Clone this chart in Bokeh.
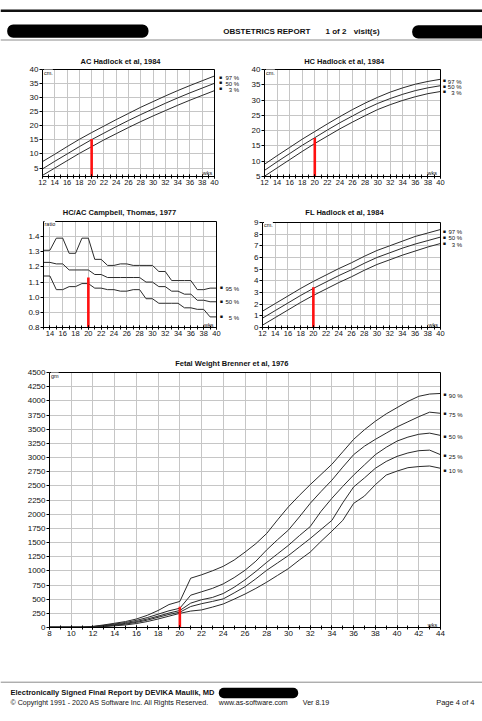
from bokeh.plotting import figure
from bokeh.layouts import column, row
from bokeh.models import (Range1d, Label, Span, BoxAnnotation, FixedTicker,
                          SingleIntervalTicker, PrintfTickFormatter)
from bokeh.embed import file_html
from bokeh.resources import INLINE

FONT = "Liberation Sans"
LINE = "#2a2a2a"
GRID = "#c6c6c6"
RED = "#ff1010"

# ---------------- data ----------------
hadlock_weeks = [12, 14, 16, 18, 20, 22, 24, 26, 28, 30, 32, 34, 36, 38, 40]
ac_p97 = [7.3, 9.9, 12.6, 15.2, 17.6, 19.9, 22.2, 24.4, 26.6, 28.6, 30.6, 32.5, 34.3, 36.0, 37.7]
ac_p50 = [4.7, 7.4, 10.0, 12.6, 15.1, 17.4, 19.7, 21.9, 24.0, 26.0, 28.0, 29.9, 31.7, 33.4, 35.1]
ac_p3 = [2.4, 5.0, 7.6, 10.2, 12.6, 15.0, 17.2, 19.4, 21.5, 23.5, 25.4, 27.3, 29.1, 30.8, 32.5]

hc_p97 = [9.0, 11.8, 14.5, 17.2, 19.7, 22.2, 24.6, 26.9, 29.0, 30.9, 32.6, 34.0, 35.2, 36.1, 36.8]
hc_p50 = [7.0, 9.8, 12.5, 15.2, 17.7, 20.2, 22.6, 24.8, 27.0, 28.9, 30.5, 31.9, 33.1, 34.0, 34.7]
hc_p3 = [5.1, 7.8, 10.5, 13.2, 15.8, 18.2, 20.6, 22.8, 24.9, 26.9, 28.5, 29.9, 31.1, 32.1, 32.8]

fl_p97 = [1.4, 2.05, 2.7, 3.35, 3.95, 4.5, 5.05, 5.55, 6.1, 6.6, 7.0, 7.4, 7.8, 8.1, 8.4]
fl_p50 = [0.8, 1.45, 2.1, 2.75, 3.35, 3.9, 4.45, 4.95, 5.5, 6.0, 6.4, 6.8, 7.15, 7.45, 7.75]
fl_p3 = [0.2, 0.85, 1.5, 2.15, 2.75, 3.3, 3.85, 4.35, 4.9, 5.4, 5.8, 6.2, 6.55, 6.9, 7.2]

hcac_weeks = [13, 14, 15, 16, 17, 18, 19, 20, 21, 22, 23, 24, 25, 26,
              27, 28, 29, 30, 31, 32, 33, 34, 35, 36, 37, 38, 39, 40]
hcac_p95 = [1.31, 1.31, 1.39, 1.39, 1.29, 1.29, 1.39, 1.39, 1.25, 1.25, 1.21, 1.21, 1.22, 1.22,
            1.21, 1.21, 1.21, 1.21, 1.17, 1.17, 1.11, 1.11, 1.11, 1.11, 1.05, 1.05, 1.06, 1.06]
hcac_p50 = [1.23, 1.23, 1.22, 1.22, 1.18, 1.18, 1.18, 1.18, 1.15, 1.15, 1.13, 1.13, 1.13, 1.13,
            1.13, 1.13, 1.10, 1.10, 1.07, 1.07, 1.04, 1.04, 1.02, 1.02, 0.98, 0.98, 0.97, 0.97]
hcac_p5 = [1.14, 1.14, 1.05, 1.05, 1.07, 1.07, 1.09, 1.09, 1.06, 1.06, 1.05, 1.05, 1.04, 1.04,
           1.05, 1.05, 0.99, 0.99, 0.96, 0.96, 0.96, 0.96, 0.93, 0.93, 0.92, 0.92, 0.87, 0.87]

fw_weeks = [8, 9, 10, 11, 12, 13, 14, 15, 16, 17, 18, 19, 20, 21, 22, 23, 24, 25, 26,
            27, 28, 29, 30, 31, 32, 33, 34, 35, 36, 37, 38, 39, 40, 41, 42, 43, 44]
fw_p90 = [5, 5, 5, 5, 20, 45, 75, 105, 150, 215, 300, 405, 460, 870, 930, 1000, 1080, 1190, 1330,
          1480, 1660, 1900, 2130, 2330, 2520, 2700, 2880, 3100, 3320, 3490, 3640, 3770, 3880, 3990, 4080, 4120, 4130]
fw_p75 = [5, 5, 5, 5, 15, 38, 62, 88, 125, 175, 235, 295, 340, 570, 630, 690, 770, 880, 1010,
          1170, 1370, 1550, 1720, 1950, 2190, 2400, 2600, 2830, 3050, 3200, 3320, 3430, 3540, 3630, 3720, 3800, 3780]
fw_p50 = [5, 5, 5, 5, 10, 30, 50, 72, 105, 150, 200, 255, 300, 430, 490, 530, 600, 710, 840,
          990, 1150, 1300, 1450, 1620, 1780, 2050, 2280, 2490, 2690, 2870, 3050, 3180, 3290, 3360, 3410, 3430, 3390]
fw_p25 = [5, 5, 5, 5, 8, 22, 40, 60, 90, 130, 180, 230, 270, 370, 420, 460, 505, 610, 720,
          860, 1010, 1140, 1270, 1420, 1570, 1730, 1890, 2200, 2480, 2640, 2810, 2930, 3020, 3080, 3120, 3130, 3050]
fw_p10 = [5, 5, 5, 5, 5, 15, 30, 45, 70, 105, 150, 200, 250, 290, 310, 360, 415, 500, 590,
          690, 800, 920, 1040, 1190, 1330, 1520, 1700, 1890, 2190, 2320, 2520, 2690, 2760, 2820, 2840, 2850, 2810]

patient_week = 20
ac_patient = 15.3
hc_patient = 17.6
hcac_patient = 1.13
fl_patient = 3.45
fw_patient = 365

cm_y_ticks = [5, 10, 15, 20, 25, 30, 35, 40]
hcac_y_ticks = [0.8, 0.9, 1.0, 1.1, 1.2, 1.3, 1.4]
fl_y_ticks = [0, 1, 2, 3, 4, 5, 6, 7, 8, 9]
fw_y_ticks = [0, 250, 500, 750, 1000, 1250, 1500, 1750, 2000, 2250, 2500, 2750,
              3000, 3250, 3500, 3750, 4000, 4250, 4500]

hadlock_legend = ["97 %", "50 %", "3 %"]
hcac_legend = ["95 %", "50 %", "5 %"]
fw_legend = ["90 %", "75 %", "50 %", "25 %", "10 %"]


# ---------------- helpers ----------------
def make_chart(fig_box, inner, xr, yr, yticks, xfont, yfont, yfmt=None):
    """fig_box = (x, y, w, h) of the figure on the page; inner = (left, top, right, bottom)
    page pixels of the chart box that spans xr x yr."""
    fx, fy, fw, fh = fig_box
    bl, bt, br, bb = inner
    L = int(round(bl - fx))
    B = int(round(fy + fh - bb))
    pxu = (br - bl) / (xr[1] - xr[0])
    pyu = (bb - bt) / (yr[1] - yr[0])
    x_end = xr[0] + (fx + fw - bl) / pxu
    y_end = yr[0] + (bb - fy) / pyu
    p = figure(width=fw, height=fh, x_range=Range1d(xr[0], x_end), y_range=Range1d(yr[0], y_end),
               output_backend="svg", toolbar_location=None,
               min_border_left=L, min_border_right=0, min_border_top=0, min_border_bottom=B)
    p.background_fill_color = "white"
    p.border_fill_color = "white"
    p.outline_line_color = None
    xa = p.xaxis[0]
    ya = p.yaxis[0]
    xa.ticker = SingleIntervalTicker(interval=2, num_minor_ticks=2)
    ya.ticker = FixedTicker(ticks=yticks)
    xa.bounds = (xr[0], xr[1])
    ya.bounds = (yr[0], yr[1])
    for ax in (xa, ya):
        ax.axis_line_color = "black"
        ax.major_tick_line_color = "black"
        ax.minor_tick_line_color = "black"
        ax.major_label_text_font = FONT
        ax.major_label_text_color = "#111111"
    xa.major_tick_in = 2
    xa.major_tick_out = 2
    xa.minor_tick_in = 2
    xa.minor_tick_out = 2
    xa.major_label_standoff = 1
    xa.major_label_text_font_size = xfont
    ya.major_tick_in = 0
    ya.major_tick_out = 3
    ya.minor_tick_line_color = None
    ya.major_label_standoff = 1
    ya.major_label_text_font_size = yfont
    if yfmt:
        ya.formatter = PrintfTickFormatter(format=yfmt)
    p.xgrid.grid_line_color = GRID
    p.ygrid.grid_line_color = GRID
    p.xgrid.bounds = (xr[0], xr[1])
    p.xgrid.cross_bounds = (yr[0], yr[1])
    p.ygrid.bounds = (yr[0], yr[1])
    p.ygrid.cross_bounds = (xr[0], xr[1])
    p.add_layout(BoxAnnotation(left=xr[0], right=xr[1], bottom=yr[0], top=yr[1],
                               fill_color=None, fill_alpha=0, line_color="black",
                               line_width=1, line_alpha=1))

    def to_data(px, py):
        return (xr[0] + (px - bl) / pxu, yr[0] + (bb - py) / pyu)
    return p, to_data


def add_text(p, to_data, px, py, text, size, align="left", bold=False, color="#111111", bg=None):
    x, y = to_data(px, py)
    lab = Label(x=x, y=y, text=text, text_font=FONT, text_font_size=size, text_align=align,
                text_baseline="middle", text_font_style="bold" if bold else "normal",
                text_color=color)
    if bg:
        lab.background_fill_color = bg
    p.add_layout(lab)


def add_legend(p, to_data, sq_x, text_right, rows, texts):
    for t, py in zip(texts, rows):
        add_text(p, to_data, sq_x, py - 1.6, "\u25a0", "5px", align="center")
        add_text(p, to_data, text_right, py, t, "6px", align="right")


def blank(w, h):
    p = figure(width=w, height=h, x_range=Range1d(0, w), y_range=Range1d(0, h),
               output_backend="svg", toolbar_location=None, min_border=0,
               x_axis_type=None, y_axis_type=None)
    p.grid.visible = False
    p.outline_line_color = None
    p.background_fill_color = "white"
    p.border_fill_color = "white"
    return p


# ---------------- header (page y 0..50) ----------------
HW, HH = 482, 50
header = blank(HW, HH)
header.add_layout(Span(location=HH - 10.2, dimension="width", line_color="#111111", line_width=2.4))
header.add_layout(Span(location=HH - 39.5, dimension="width", line_color="#8a8a8a", line_width=1))
header.add_layout(BoxAnnotation(left=6.7, right=148, bottom=HH - 37.3, top=HH - 24,
                                fill_color="black", fill_alpha=1, line_color=None, border_radius=6))
header.add_layout(BoxAnnotation(left=411.7, right=490, bottom=HH - 38, top=HH - 24.7,
                                fill_color="black", fill_alpha=1, line_color=None, border_radius=6))
for tx, xx in [("OBSTETRICS REPORT", 222.7), ("1 of 2", 325.0), ("visit(s)", 353.3)]:
    header.add_layout(Label(x=xx, y=HH - 30.7, text=tx, text_font=FONT, text_font_size="8px",
                            text_font_style="bold", text_baseline="middle", text_color="#111111"))

# ---------------- AC (page y 50..200) ----------------
ac, ac_m = make_chart((0, 50, 241, 150), (42, 69, 214, 176), (12, 40), (2, 40), cm_y_ticks, "7.5px", "8px")
for s in (ac_p97, ac_p50, ac_p3):
    ac.line(hadlock_weeks, s, line_color=LINE, line_width=1)
ac.segment(x0=[patient_week], y0=[2], x1=[patient_week], y1=[ac_patient], line_color=RED, line_width=2.6)
add_text(ac, ac_m, 120, 61, "AC Hadlock et al, 1984", "7.5px", align="center", bold=True)
add_text(ac, ac_m, 43.5, 72, "cm.", "5.5px", bg="white")
add_text(ac, ac_m, 211.7, 172.5, "wks", "5.5px", align="right")
add_legend(ac, ac_m, 220, 238.7, [77.7, 83.3, 89.0], hadlock_legend)

# ---------------- HC ----------------
hc, hc_m = make_chart((241, 50, 241, 150), (264, 69, 440, 176), (12, 40), (5, 40), cm_y_ticks, "7.5px", "8px")
for s in (hc_p97, hc_p50, hc_p3):
    hc.line(hadlock_weeks, s, line_color=LINE, line_width=1)
hc.segment(x0=[patient_week], y0=[5], x1=[patient_week], y1=[hc_patient], line_color=RED, line_width=2.6)
add_text(hc, hc_m, 343.7, 61, "HC Hadlock et al, 1984", "7.5px", align="center", bold=True)
add_text(hc, hc_m, 265.5, 72, "cm.", "5.5px", bg="white")
add_text(hc, hc_m, 436.5, 172.5, "wks", "5.5px", align="right")
add_legend(hc, hc_m, 443.7, 461, [81.0, 86.7, 92.3], hadlock_legend)

# ---------------- HC/AC (page y 200..345) ----------------
ha, ha_m = make_chart((0, 200, 241, 145), (43, 221, 216, 327), (13, 40), (0.8, 1.5), hcac_y_ticks,
                      "7.5px", "8px", yfmt="%.1f")
for s in (hcac_p95, hcac_p50, hcac_p5):
    ha.line(hcac_weeks, s, line_color=LINE, line_width=1)
ha.segment(x0=[patient_week], y0=[0.8], x1=[patient_week], y1=[hcac_patient], line_color=RED, line_width=2.6)
add_text(ha, ha_m, 120, 211.7, "HC/AC Campbell, Thomas,  1977", "7.5px", align="center", bold=True)
add_text(ha, ha_m, 44, 223.5, "ratio", "5.5px", bg="white")
add_text(ha, ha_m, 213, 324, "wks", "5.5px", align="right")
add_legend(ha, ha_m, 220.7, 238.7, [288.3, 301.7, 317.3], hcac_legend)

# ---------------- FL ----------------
fl, fl_m = make_chart((241, 200, 241, 145), (262, 222, 440, 327), (12, 40), (0, 9), fl_y_ticks, "7.5px", "8px")
for s in (fl_p97, fl_p50, fl_p3):
    fl.line(hadlock_weeks, s, line_color=LINE, line_width=1)
fl.segment(x0=[patient_week], y0=[0], x1=[patient_week], y1=[fl_patient], line_color=RED, line_width=2.6)
add_text(fl, fl_m, 344, 212.3, "FL Hadlock et al, 1984", "7.5px", align="center", bold=True)
add_text(fl, fl_m, 263.5, 224.5, "cm.", "5.5px", bg="white")
add_text(fl, fl_m, 437.5, 324, "wks", "5.5px", align="right")
add_legend(fl, fl_m, 443.7, 461.7, [231.7, 237.7, 244.0], hadlock_legend)

# ---------------- Fetal weight (page y 345..650) ----------------
fw, fw_m = make_chart((0, 345, 482, 305), (49, 372, 440, 627), (8, 44), (0, 4500), fw_y_ticks, "8px", "8px")
for s in (fw_p90, fw_p75, fw_p50, fw_p25, fw_p10):
    fw.line(fw_weeks, s, line_color=LINE, line_width=1)
fw.segment(x0=[patient_week], y0=[0], x1=[patient_week], y1=[fw_patient], line_color=RED, line_width=2.6)
add_text(fw, fw_m, 231.3, 363, "Fetal Weight Brenner et al, 1976", "7.5px", align="center", bold=True)
add_text(fw, fw_m, 50.5, 375, "gm", "5.5px", bg="white")
add_text(fw, fw_m, 436.7, 624, "wks", "5.5px", align="right")
add_legend(fw, fw_m, 444.3, 462, [395.0, 414.0, 436.7, 456.0, 470.7], fw_legend)

# ---------------- footer (page y 650..721) ----------------
FTW, FTH = 482, 71
footer = blank(FTW, FTH)
footer.add_layout(Span(location=FTH - 31.7, dimension="width", line_color="#8a8a8a", line_width=1))
footer.add_layout(BoxAnnotation(left=218.3, right=297.7, bottom=FTH - 47.7, top=FTH - 37.3,
                                fill_color="black", fill_alpha=1, line_color=None, border_radius=5))
footer.add_layout(Label(x=10, y=FTH - 41.7, text="Electronically Signed Final Report by DEVIKA Maulik, MD",
                        text_font=FONT, text_font_size="7.5px", text_font_style="bold",
                        text_baseline="middle", text_color="#111111"))
for tx, xx in [("\u00a9 Copyright 1991 - 2020 AS Software Inc. All Rights Reserved.", 10),
               ("www.as-software.com", 218.3), ("Ver 8.19", 302.3)]:
    footer.add_layout(Label(x=xx, y=FTH - 52.3, text=tx, text_font=FONT, text_font_size="7.1px",
                            text_baseline="middle", text_color="#111111"))
footer.add_layout(Label(x=474, y=FTH - 52.3, text="Page 4 of 4", text_font=FONT, text_font_size="7.5px",
                        text_align="right", text_baseline="middle", text_color="#111111"))

layout = column(row(header), row(ac, hc), row(ha, fl), row(fw), row(footer))
open("out.html", "w").write(file_html(layout, INLINE))
